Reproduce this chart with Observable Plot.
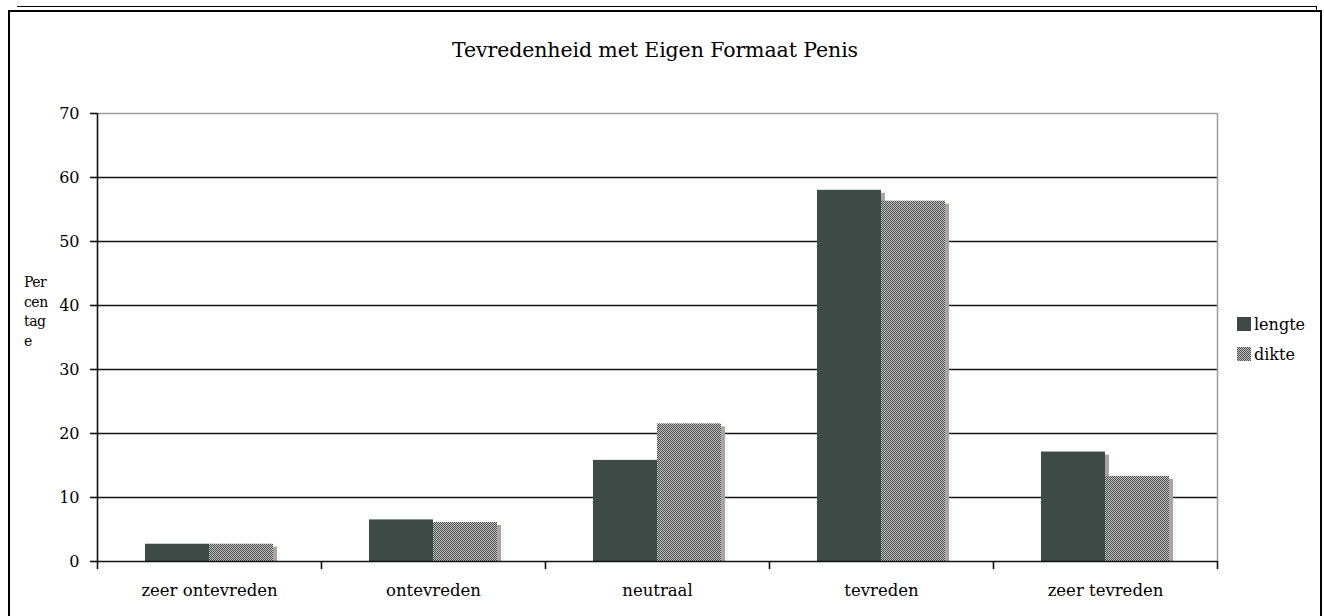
<!DOCTYPE html>
<html>
<head>
<meta charset="utf-8">
<script src="https://cdn.jsdelivr.net/npm/d3@7"></script>
<script src="https://cdn.jsdelivr.net/npm/@observablehq/plot@0.6"></script>
<style>
  body { margin: 0; background: #fff; }
  #wrap { position: relative; width: 1324px; height: 616px; overflow: hidden; background: #fff;
          font-family: "DejaVu Serif", "Liberation Serif", serif; color: #000; }
  #chart { position: absolute; left: 0; top: 0; }
  .frame { position: absolute; left: 8px; top: 10px; width: 1310px; height: 640px;
           border: 2px solid #000; box-sizing: content-box; }
  .frame2 { position: absolute; left: 17px; top: 6px; width: 1299px; height: 4px;
            border-top: 1px solid #000; border-right: 1px solid #000; }
  .title { position: absolute; left: 0; top: 38px; width: 1310px; text-align: center;
           font-size: 20.5px; line-height: 24px; letter-spacing: -0.1px; }
  .ylabel { position: absolute; left: 24px; top: 273px; font-size: 14px; line-height: 19.7px; letter-spacing: -0.5px; }
  .legend { position: absolute; left: 1237px; top: 309px; font-size: 16px; letter-spacing: 0px; }
  .legend .item { display: flex; align-items: center; height: 30px; }
  .legend svg { margin-right: 3px; }
</style>
</head>
<body>
<svg width="0" height="0" style="position:absolute">
  <defs>
    <pattern id="dots" width="2" height="2" patternUnits="userSpaceOnUse">
      <rect width="2" height="2" fill="#c6c6c6"></rect>
      <rect x="0" y="0" width="1" height="1" fill="#4a4a4a"></rect>
      <rect x="1" y="1" width="1" height="1" fill="#4a4a4a"></rect>
    </pattern>
  </defs>
</svg>
<div id="wrap">
  <div class="frame2"></div>
  <div class="frame"></div>
  <div id="chart"></div>
  <div class="title">Tevredenheid met Eigen Formaat Penis</div>
  <div class="ylabel">Per<br>cen<br>tag<br>e</div>
  <div class="legend" id="legend"></div>
</div>
<script>
const categories = ["zeer ontevreden", "ontevreden", "neutraal", "tevreden", "zeer tevreden"];
const seriesNames = ["lengte", "dikte"];
const lengte = [2.7, 6.5, 15.8, 58.0, 17.1];
const dikte = [2.7, 6.1, 21.5, 56.3, 13.3];
const yTicks = [0, 10, 20, 30, 40, 50, 60, 70];

const colLengte = "#3e4a46";
const colDikte = "url(#dots)";
const colShadow = "#aaa59c";

const rows = categories.map((c, i) => ({cat: c, lengte: lengte[i], dikte: dikte[i]}));
const half = 112;

const chart = Plot.plot({
  width: 1324,
  height: 616,
  marginLeft: 97,
  marginRight: 107,
  marginTop: 113,
  marginBottom: 55,
  style: {fontFamily: "'DejaVu Serif', 'Liberation Serif', serif", fontSize: "16px", background: "transparent", color: "#000"},
  x: {domain: categories, padding: 0, label: null},
  y: {domain: [0, 70], label: null},
  marks: [
    Plot.ruleY(yTicks.filter(t => t > 0 && t < 70), {stroke: "#111", strokeWidth: 1.6}),
    Plot.ruleY([70], {stroke: "#9c9c9c", strokeWidth: 1.5}),
    Plot.ruleX([categories[categories.length - 1]], {x: d => d, dx: half, y1: 0, y2: 70, stroke: "#9c9c9c", strokeWidth: 1.5}),
    Plot.barY(rows, {x: "cat", y: "lengte", fill: colShadow, dx: 4, insetTop: 3, insetLeft: 48, insetRight: 112}),
    Plot.barY(rows, {x: "cat", y: "lengte", fill: colLengte, insetLeft: 48, insetRight: 112}),
    Plot.barY(rows, {x: "cat", y: "dikte", fill: colShadow, dx: 4, insetTop: 3, insetLeft: 112, insetRight: 48}),
    Plot.barY(rows, {x: "cat", y: "dikte", fill: colDikte, insetLeft: 112, insetRight: 48}),
    Plot.ruleY([0], {stroke: "#111", strokeWidth: 1.6}),
    Plot.ruleX([categories[0]], {x: d => d, dx: -half, y1: 0, y2: 70, stroke: "#111", strokeWidth: 1.6}),
    Plot.ruleX(categories, {x: d => d, dx: -half, y1: 0, y2: 0, insetTop: 8, stroke: "#111", strokeWidth: 1.6}),
    Plot.ruleX([categories[categories.length - 1]], {x: d => d, dx: half, y1: 0, y2: 0, insetTop: 8, stroke: "#111", strokeWidth: 1.6}),
    Plot.axisY({ticks: yTicks, tickSize: 7, tickPadding: 11, tickFormat: d => String(d), label: null, stroke: "#111", strokeWidth: 1.6, fontSize: 16}),
    Plot.axisX({tickSize: 0, tickPadding: 23, label: null, fontSize: 16.5})
  ]
});
document.getElementById("chart").appendChild(chart);

const legend = document.getElementById("legend");
const swatchFill = {lengte: colLengte, dikte: colDikte};
seriesNames.forEach(name => {
  const item = document.createElement("div");
  item.className = "item";
  item.innerHTML = `<svg width="14" height="14"><rect width="14" height="14" fill="${swatchFill[name]}"></rect></svg><span>${name}</span>`;
  legend.appendChild(item);
});
</script>
</body>
</html>
